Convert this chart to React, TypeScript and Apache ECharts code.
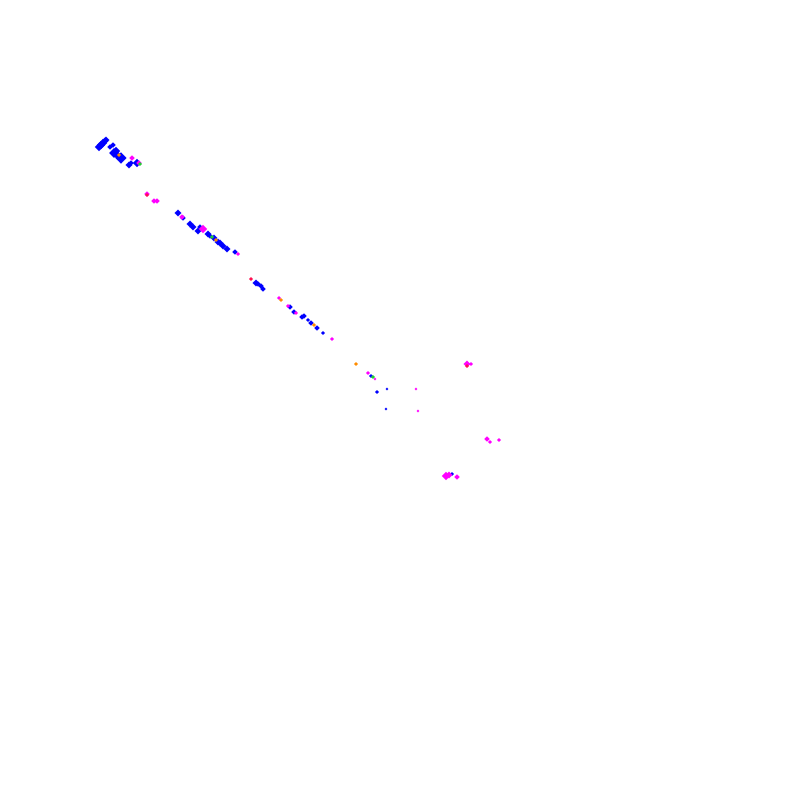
import React, { useEffect, useRef } from 'react';
import * as echarts from 'echarts';

// [x, y, size] (x/y in plot units of 0..800)
const bluePoints: number[][] = [
  [99, 147, 5], [101, 145, 5], [103, 143, 5], [105, 141, 4], [106, 140, 4],
  [110, 147, 3], [113, 145, 3], [114, 153, 6], [116, 151, 5], [121, 158, 7],
  [118, 156, 5], [129, 165, 4], [131, 163, 3], [137, 163, 5], [178, 213, 4],
  [183, 218, 3], [190, 224, 4], [193, 227, 4], [200, 227, 3], [198, 231, 4],
  [208, 234, 4], [210, 236, 3], [214, 238, 4], [218, 242, 4], [220, 243, 4],
  [223, 246, 4], [227, 249, 4], [235, 252, 3], [256, 283, 4], [258, 284, 3],
  [261, 286, 3], [263, 289, 3], [290, 307, 3], [294, 312, 3], [302, 317, 3],
  [304, 316, 3], [308, 320, 2], [311, 323, 3], [317, 328, 3], [323, 333, 2],
  [371, 376, 2], [387, 389, 1], [377, 392, 2], [386, 409, 1], [452, 474, 2]
];
const magentaPoints: number[][] = [
  [132, 158, 3], [139, 163, 3], [147, 194, 3], [154, 201, 3], [157, 201, 3],
  [182, 217, 3], [203, 229, 5], [238, 254, 2], [279, 298, 2], [288, 306, 2],
  [296, 313, 2], [332, 339, 2], [368, 373, 2], [375, 379, 1], [416, 389, 1],
  [418, 411, 1], [467, 364, 4], [471, 364, 2], [487, 439, 3], [490, 442, 2],
  [499, 440, 2], [446, 476, 5], [449, 475, 4], [457, 477, 3]
];
const orangePoints: number[][] = [
  [119, 155, 2], [216, 240, 2], [281, 300, 2], [314, 325, 2], [356, 364, 2]
];
const greenPoints: number[][] = [
  [140, 164, 2], [212, 237, 2], [373, 377, 2]
];
const redPoints: number[][] = [
  [147, 195, 2], [251, 279, 2], [467, 366, 2]
];

const groups = [
  { name: 'blue', data: bluePoints, color: '#0000ff' },
  { name: 'magenta', data: magentaPoints, color: '#ff00ff' },
  { name: 'orange', data: orangePoints, color: '#ff8c00' },
  { name: 'green', data: greenPoints, color: '#22cc33' },
  { name: 'red', data: redPoints, color: '#ff1050' }
];

const App: React.FC = () => {
  const chartRef = useRef<HTMLDivElement>(null);

  useEffect(() => {
    if (!chartRef.current) return;
    const chart = echarts.init(chartRef.current, undefined, { renderer: 'svg' });

    const option: echarts.EChartsOption = {
      animation: false,
      backgroundColor: '#ffffff',
      grid: { left: 0, top: 0, right: 0, bottom: 0 },
      xAxis: { type: 'value', min: 0, max: 800, show: false },
      yAxis: { type: 'value', min: 0, max: 800, inverse: true, show: false },
      series: groups.map(g => ({
        name: g.name,
        type: 'scatter',
        data: g.data,
        symbol: 'rect',
        symbolRotate: 45,
        symbolSize: (v: number[]) => v[2] + 1,
        itemStyle: { color: g.color, opacity: 1 }
      }))
    };

    chart.setOption(option);
    return () => {
      chart.dispose();
    };
  }, []);

  return <div ref={chartRef} style={{ position: 'fixed', left: 0, top: 0, width: 800, height: 800 }} />;
};

export default App;
